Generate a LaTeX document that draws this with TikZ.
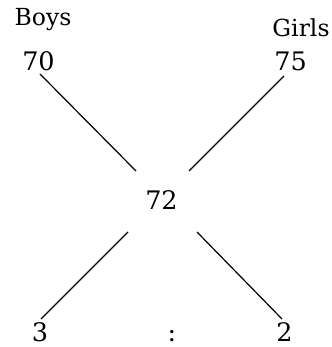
\documentclass[tikz,border=0pt]{standalone}
\usepackage{fontspec}
\setmainfont{DejaVu Serif}
\tikzset{
  num/.style={anchor=base, inner sep=0pt, font=\fontsize{25.5}{30}\selectfont},
  lbl/.style={anchor=base, inner sep=0pt, font=\fontsize{23.5}{28}\selectfont},
  conn/.style={line width=1.2pt, black}
}
\begin{document}
\begin{tikzpicture}[x=1pt, y=-1pt]
\useasboundingbox (0,0) rectangle (331,347);
\node[lbl] (boys) at (43,26) {Boys};
\node[lbl] (girls) at (301,37) {Girls};
\node[num] (n70) at (38.5,71) {70};
\node[num] (n75) at (290.5,71) {75};
\node[num] (n72) at (161.5,209) {72};
\node[num] (n3) at (40,341) {3};
\node[num] (colon) at (172,341) {:};
\node[num] (n2) at (284.5,341) {2};
\draw[conn] ([shift={(1.5,3)}]n70.base) -- ([shift={(-25.5,-38)}]n72.base);
\draw[conn] ([shift={(-6.5,5)}]n75.base) -- ([shift={(27.5,-38)}]n72.base);
\draw[conn] ([shift={(-33.5,23)}]n72.base) -- ([shift={(1,-22)}]n3.base);
\draw[conn] ([shift={(35.5,23)}]n72.base) -- ([shift={(-2.5,-22)}]n2.base);
\end{tikzpicture}
\end{document}
